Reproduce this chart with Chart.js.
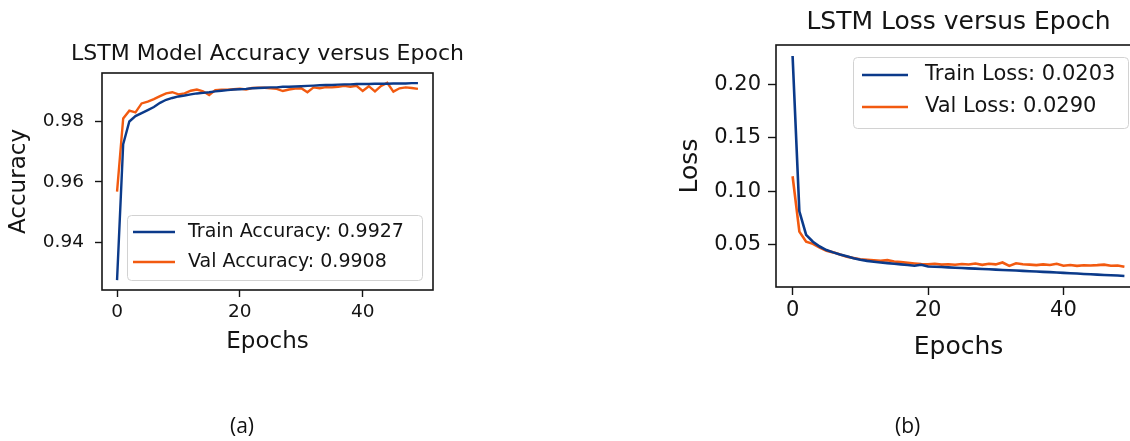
<!DOCTYPE html>
<html><head><meta charset="utf-8">
<script src="https://cdn.jsdelivr.net/npm/chart.js@4.4.1/dist/chart.umd.min.js"></script>
<style>
html,body{margin:0;padding:0;background:#fff;width:1130px;height:441px;overflow:hidden;position:relative;}
#c1{position:absolute;left:0;top:0;}
#c2{position:absolute;left:640px;top:0;}
.cap{position:absolute;font-family:'Open Sans',sans-serif;font-size:21px;color:#111;top:412px;line-height:26px;}
</style></head><body>
<canvas id="c1" width="500" height="441"></canvas>
<canvas id="c2" width="501" height="441"></canvas>
<div class="cap" style="left:230px">(a)</div>
<div class="cap" style="left:895px">(b)</div>
<script>
const epochs = [0,1,2,3,4,5,6,7,8,9,10,11,12,13,14,15,16,17,18,19,20,21,22,23,24,25,26,27,28,29,30,31,32,33,34,35,36,37,38,39,40,41,42,43,44,45,46,47,48,49];
const accTrain = [0.9275,0.9725,0.9800,0.9818,0.9828,0.9838,0.9848,0.9862,0.9872,0.9878,0.9883,0.9886,0.9890,0.9893,0.9895,0.9897,0.9900,0.9902,0.9904,0.9906,0.9907,0.9908,0.9910,0.9911,0.9912,0.9913,0.9913,0.9915,0.9915,0.9916,0.9917,0.9918,0.9919,0.9920,0.9921,0.9921,0.9922,0.9923,0.9923,0.9924,0.9924,0.9924,0.9925,0.9925,0.9925,0.9926,0.9926,0.9926,0.9927,0.9927];
const accVal = [0.9568,0.9810,0.9836,0.9830,0.9860,0.9866,0.9874,0.9884,0.9893,0.9897,0.9890,0.9893,0.9902,0.9906,0.9900,0.9888,0.9904,0.9905,0.9905,0.9907,0.9909,0.9906,0.9911,0.9912,0.9912,0.9910,0.9908,0.9901,0.9906,0.9909,0.9910,0.9897,0.9913,0.9910,0.9914,0.9913,0.9915,0.9918,0.9915,0.9918,0.9901,0.9917,0.9900,0.9918,0.9928,0.9899,0.9910,0.9913,0.9911,0.9908];
const lossTrain = [0.227,0.081,0.059,0.0525,0.048,0.0447,0.0425,0.0405,0.0388,0.0370,0.0355,0.0345,0.0337,0.0330,0.0324,0.0318,0.0312,0.0306,0.0300,0.0308,0.0292,0.0290,0.0287,0.0284,0.0281,0.0278,0.0275,0.0272,0.0269,0.0266,0.0263,0.0260,0.0257,0.0254,0.0251,0.0248,0.0245,0.0242,0.0239,0.0236,0.0232,0.0229,0.0226,0.0222,0.0219,0.0216,0.0213,0.0210,0.0207,0.0203];
const lossVal = [0.114,0.062,0.0525,0.0505,0.0470,0.0440,0.0425,0.0405,0.0385,0.0372,0.0360,0.0355,0.0350,0.0345,0.0352,0.0340,0.0333,0.0326,0.0320,0.0315,0.0312,0.0318,0.0310,0.0314,0.0309,0.0316,0.0311,0.0320,0.0308,0.0318,0.0312,0.0330,0.0298,0.0322,0.0314,0.0310,0.0305,0.0312,0.0306,0.0318,0.0300,0.0306,0.0298,0.0304,0.0302,0.0305,0.0310,0.0300,0.0302,0.0290];
const epochTicks = [0,20,40];
const accTicks = [0.94,0.96,0.98];
const lossTicks = [0.05,0.10,0.15,0.20];
const accLabels = ['Train Accuracy: 0.9927','Val Accuracy: 0.9908'];
const lossLabels = ['Train Loss: 0.0203','Val Loss: 0.0290'];

const F = "'DejaVu Sans', sans-serif";
const TRAIN = '#0b3a8a';
const VAL = '#f25a10';
const INK = '#141414';

function lim(arrs){ // matplotlib-style 5% margins
  let lo = Infinity, hi = -Infinity;
  arrs.forEach(a=>a.forEach(v=>{lo=Math.min(lo,v);hi=Math.max(hi,v);}));
  const p = (hi-lo)*0.05; return [lo-p, hi+p];
}
const xl = lim([epochs]);

const frame = { id:'frame', afterDatasetsDraw(chart){
  const a = chart.chartArea, c = chart.ctx;
  c.save(); c.strokeStyle = INK; c.lineWidth = 1.6;
  c.strokeRect(a.left, a.top, a.right-a.left, a.bottom-a.top); c.restore();
}};
const topTitle = { id:'topTitle', afterDraw(chart, args, o){
  const a = chart.chartArea, c = chart.ctx;
  c.save(); c.font = o.size + 'px ' + F; c.fillStyle = INK;
  c.textAlign = 'center'; c.textBaseline = 'middle';
  c.fillText(o.text, (a.left+a.right)/2, a.top - o.gap); c.restore();
}};
const boxLegend = { id:'boxLegend', afterDraw(chart, args, o){
  const a = chart.chartArea, c = chart.ctx;
  const bx = a.left + o.dx, by = a.top + o.dy;
  c.save();
  c.beginPath(); c.roundRect(bx+0.5, by+0.5, o.w, o.h, 4);
  c.fillStyle = 'rgba(255,255,255,0.85)'; c.fill();
  c.strokeStyle = '#d2d2d2'; c.lineWidth = 1; c.stroke();
  c.font = o.size + 'px ' + F; c.textBaseline = 'middle'; c.textAlign = 'left';
  chart.data.datasets.forEach((ds,i)=>{
    const y = by + o.rows[i];
    c.beginPath(); c.moveTo(bx+o.lx0, y); c.lineTo(bx+o.lx1, y);
    c.strokeStyle = ds.borderColor; c.lineWidth = ds.borderWidth; c.stroke();
    c.fillStyle = INK; c.fillText(ds.label, bx+o.tx, y);
  });
  c.restore();
}};

function makeChart(id, cfg){
  const ds = (label, vals, color) => ({
    label, data: epochs.map((e,i)=>({x:e, y:vals[i]})),
    borderColor: color, backgroundColor: color, borderWidth: cfg.lw,
    pointRadius: 0, tension: 0, fill: false
  });
  return new Chart(document.getElementById(id), {
    type: 'line',
    data: { datasets: [ds(cfg.labels[0], cfg.train, TRAIN), ds(cfg.labels[1], cfg.val, VAL)] },
    options: {
      responsive: false, animation: false, events: [],
      layout: { padding: cfg.pad },
      plugins: {
        legend: { display: false }, tooltip: { enabled: false }, title: { display: false },
        topTitle: { text: cfg.title, size: cfg.titleSize, gap: cfg.titleGap },
        boxLegend: cfg.legend
      },
      scales: {
        x: {
          type: 'linear', min: xl[0], max: xl[1],
          afterBuildTicks: s => { s.ticks = epochTicks.map(v=>({value:v})); },
          afterFit: s => { s.height = cfg.xh; },
          ticks: { font: {family: F, size: cfg.tick}, color: INK, padding: cfg.xpad, maxRotation: 0, autoSkip: false, callback: v => String(v) },
          grid: { display: true, drawOnChartArea: false, drawTicks: true, tickLength: cfg.tl, tickColor: INK, tickWidth: 1.4, color: INK },
          border: { display: false },
          title: { display: true, text: 'Epochs', font: {family: F, size: cfg.lab}, color: INK, padding: {top: 0, bottom: 0} }
        },
        y: {
          type: 'linear', min: cfg.ylim[0], max: cfg.ylim[1],
          afterBuildTicks: s => { s.ticks = cfg.yticks.map(v=>({value:v})); },
          afterFit: s => { s.width = cfg.yw; },
          ticks: { font: {family: F, size: cfg.tick}, color: INK, padding: cfg.ypad, autoSkip: false, callback: v => v.toFixed(2) },
          grid: { display: true, drawOnChartArea: false, drawTicks: true, tickLength: cfg.tl, tickColor: INK, tickWidth: 1.4, color: INK },
          border: { display: false },
          title: { display: true, text: cfg.ylabel, font: {family: F, size: cfg.lab}, color: INK, padding: {top: cfg.ytp, bottom: 0} }
        }
      }
    },
    plugins: [frame, topTitle, boxLegend]
  });
}

makeChart('c1', {
  labels: accLabels, train: accTrain, val: accVal, ylabel: 'Accuracy',
  ylim: lim([accTrain, accVal]), yticks: accTicks,
  title: 'LSTM Model Accuracy versus Epoch', titleSize: 22, titleGap: 19,
  pad: {left: 0, top: 73, right: 67, bottom: 85},
  xh: 66, yw: 102, tick: 18.5, lab: 23, tl: 7, xpad: 4, ypad: 11, ytp: 5, lw: 2.4,
  legend: {dx: 25, dy: 142, w: 295, h: 65, rows: [17, 47], lx0: 6, lx1: 48, tx: 61, size: 19}
});
makeChart('c2', {
  labels: lossLabels, train: lossTrain, val: lossVal, ylabel: 'Loss',
  ylim: lim([lossTrain, lossVal]), yticks: lossTicks,
  title: 'LSTM Loss versus Epoch', titleSize: 25, titleGap: 23,
  pad: {left: 0, top: 45, right: 0, bottom: 79},
  xh: 75, yw: 136, tick: 21, lab: 25, tl: 8, xpad: 3, ypad: 7, ytp: 35, lw: 2.6,
  legend: {dx: 77, dy: 12, w: 275, h: 71, rows: [18, 50], lx0: 9, lx1: 55, tx: 72, size: 21}
});
</script>
</body></html>
